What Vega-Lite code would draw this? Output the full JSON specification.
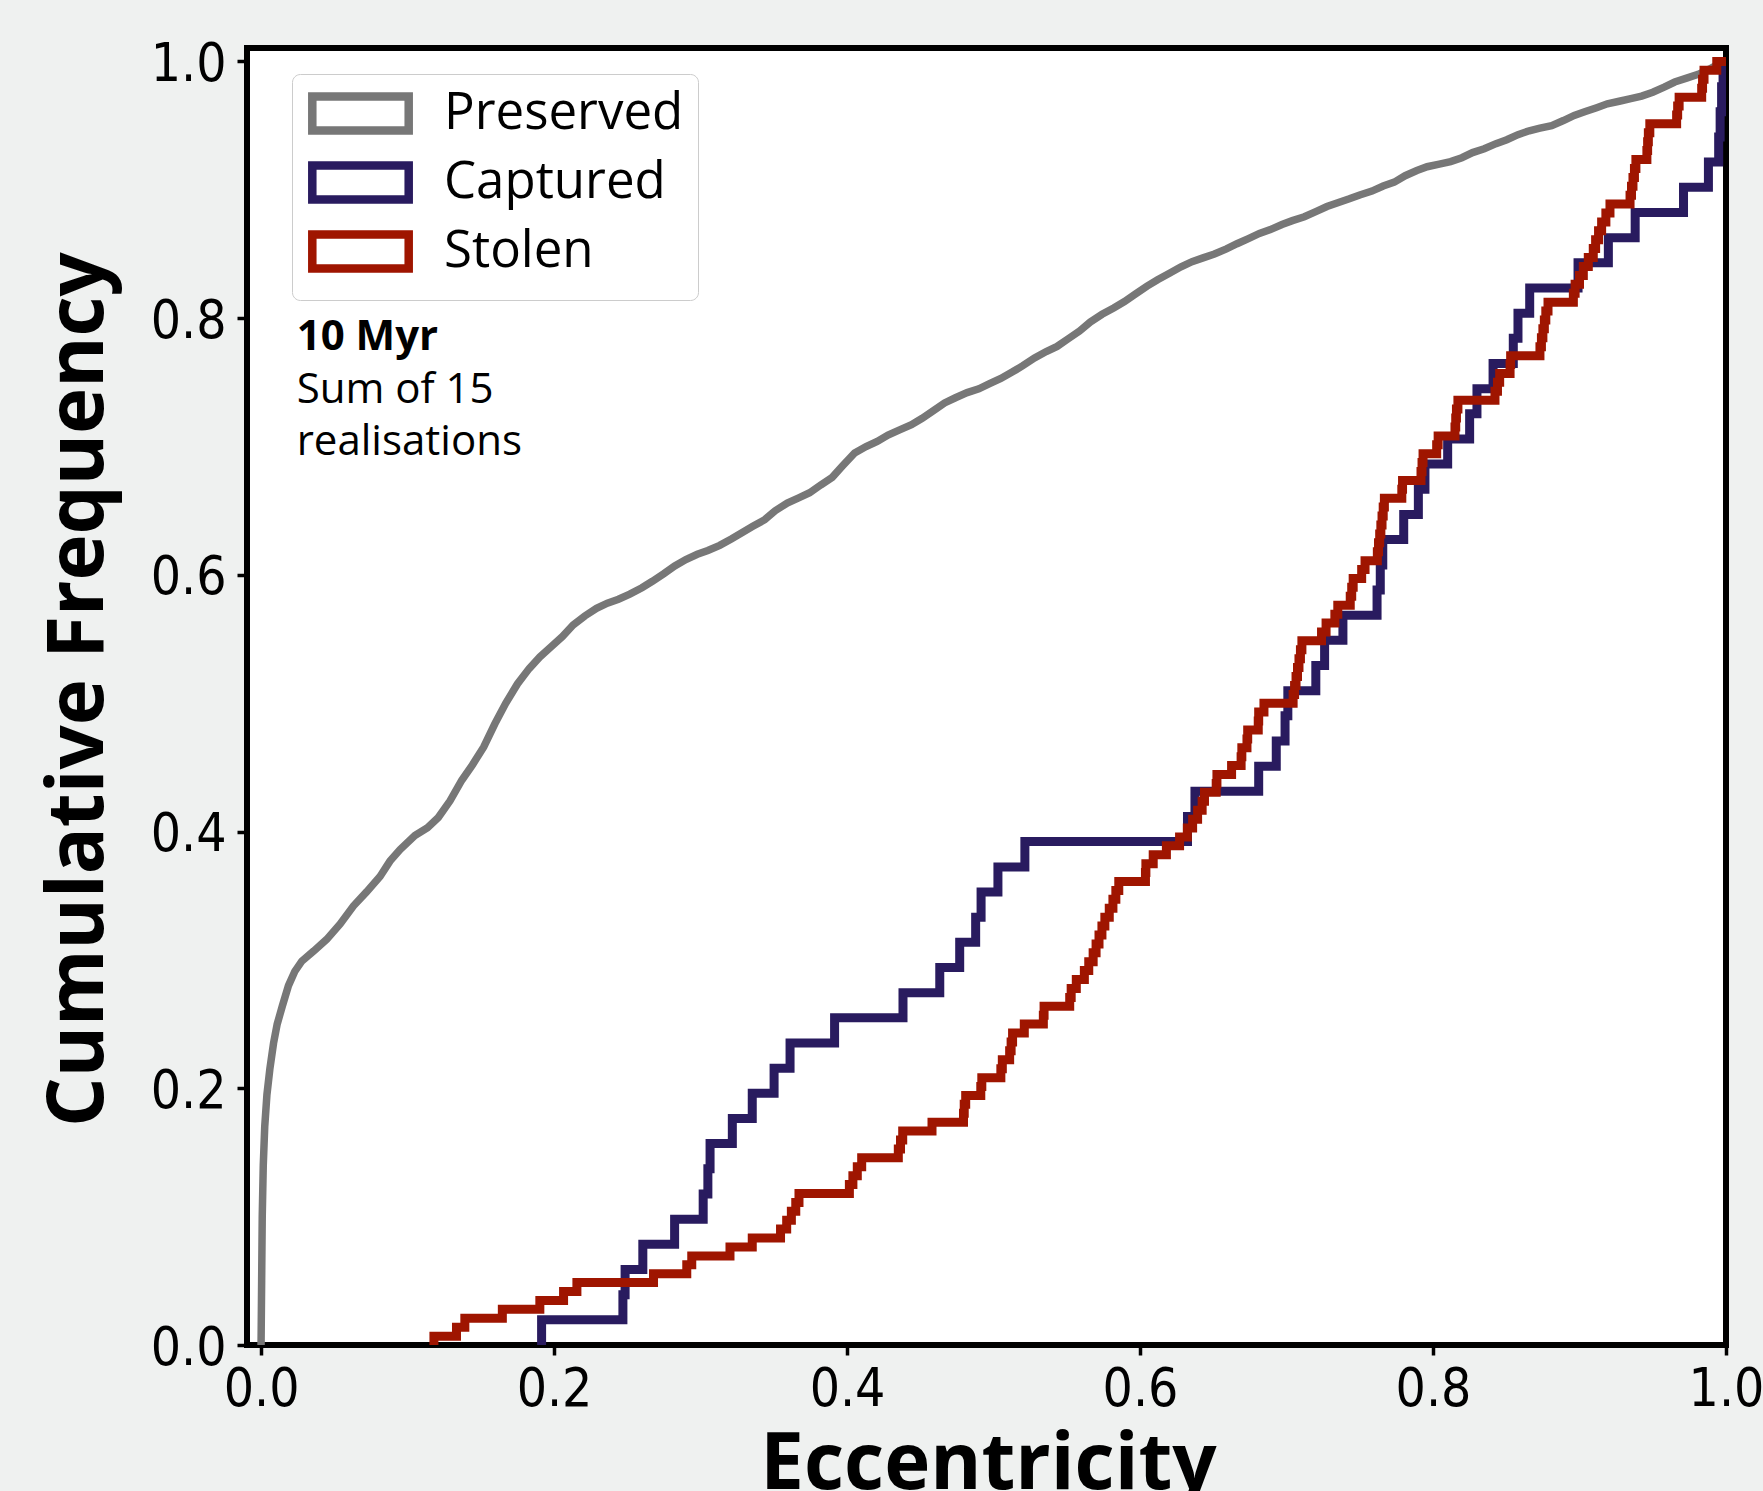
{
  "$schema": "https://vega.github.io/schema/vega-lite/v6.json",
  "width": 1479,
  "height": 1297,
  "autosize": {"type": "none"},
  "padding": {"left": 247, "top": 48, "right": 37, "bottom": 146},
  "background": "#eff1f0",
  "config": {
    "view": {"stroke": "#000000", "strokeWidth": 6, "fill": "#ffffff"},
    "axis": {
      "domain": false,
      "grid": false,
      "tickColor": "#000000",
      "tickWidth": 3.5,
      "tickSize": 10,
      "labelColor": "#000000",
      "labelFont": "DejaVu Sans Condensed, DejaVu Sans",
      "labelFontSize": 53,
      "labelFlush": false,
      "labelOverlap": false,
      "titleColor": "#000000",
      "titleFont": "Open Sans",
      "titleFontSize": 78,
      "titleFontWeight": "bold"
    }
  },
  "datasets": {
    "curves": [
      {"series": "Preserved", "ecc": 0.0, "cum": 0.0},
      {"series": "Preserved", "ecc": 0.0004, "cum": 0.05},
      {"series": "Preserved", "ecc": 0.0008, "cum": 0.10},
      {"series": "Preserved", "ecc": 0.0015, "cum": 0.14},
      {"series": "Preserved", "ecc": 0.0025, "cum": 0.17},
      {"series": "Preserved", "ecc": 0.0040, "cum": 0.195},
      {"series": "Preserved", "ecc": 0.0060, "cum": 0.215},
      {"series": "Preserved", "ecc": 0.0085, "cum": 0.235},
      {"series": "Preserved", "ecc": 0.0110, "cum": 0.250},
      {"series": "Preserved", "ecc": 0.0145, "cum": 0.264},
      {"series": "Preserved", "ecc": 0.0187, "cum": 0.280},
      {"series": "Preserved", "ecc": 0.0230, "cum": 0.291},
      {"series": "Preserved", "ecc": 0.0278, "cum": 0.299},
      {"series": "Preserved", "ecc": 0.0360, "cum": 0.307},
      {"series": "Preserved", "ecc": 0.0448, "cum": 0.316},
      {"series": "Preserved", "ecc": 0.0540, "cum": 0.328},
      {"series": "Preserved", "ecc": 0.0630, "cum": 0.342},
      {"series": "Preserved", "ecc": 0.0720, "cum": 0.353},
      {"series": "Preserved", "ecc": 0.0812, "cum": 0.365},
      {"series": "Preserved", "ecc": 0.0880, "cum": 0.377},
      {"series": "Preserved", "ecc": 0.0949, "cum": 0.386},
      {"series": "Preserved", "ecc": 0.1050, "cum": 0.397},
      {"series": "Preserved", "ecc": 0.1136, "cum": 0.403},
      {"series": "Preserved", "ecc": 0.1210, "cum": 0.411},
      {"series": "Preserved", "ecc": 0.1290, "cum": 0.424},
      {"series": "Preserved", "ecc": 0.1370, "cum": 0.440},
      {"series": "Preserved", "ecc": 0.1443, "cum": 0.452},
      {"series": "Preserved", "ecc": 0.1520, "cum": 0.466},
      {"series": "Preserved", "ecc": 0.1596, "cum": 0.484},
      {"series": "Preserved", "ecc": 0.1670, "cum": 0.500},
      {"series": "Preserved", "ecc": 0.1750, "cum": 0.515},
      {"series": "Preserved", "ecc": 0.1830, "cum": 0.527},
      {"series": "Preserved", "ecc": 0.1903, "cum": 0.536},
      {"series": "Preserved", "ecc": 0.1980, "cum": 0.544},
      {"series": "Preserved", "ecc": 0.2057, "cum": 0.552},
      {"series": "Preserved", "ecc": 0.2130, "cum": 0.561},
      {"series": "Preserved", "ecc": 0.2210, "cum": 0.568},
      {"series": "Preserved", "ecc": 0.2290, "cum": 0.574},
      {"series": "Preserved", "ecc": 0.2364, "cum": 0.578},
      {"series": "Preserved", "ecc": 0.2440, "cum": 0.581},
      {"series": "Preserved", "ecc": 0.2517, "cum": 0.585},
      {"series": "Preserved", "ecc": 0.2600, "cum": 0.590},
      {"series": "Preserved", "ecc": 0.2671, "cum": 0.595},
      {"series": "Preserved", "ecc": 0.2750, "cum": 0.601},
      {"series": "Preserved", "ecc": 0.2824, "cum": 0.607},
      {"series": "Preserved", "ecc": 0.2900, "cum": 0.612},
      {"series": "Preserved", "ecc": 0.2978, "cum": 0.616},
      {"series": "Preserved", "ecc": 0.3050, "cum": 0.619},
      {"series": "Preserved", "ecc": 0.3131, "cum": 0.623},
      {"series": "Preserved", "ecc": 0.3210, "cum": 0.628},
      {"series": "Preserved", "ecc": 0.3285, "cum": 0.633},
      {"series": "Preserved", "ecc": 0.3360, "cum": 0.638},
      {"series": "Preserved", "ecc": 0.3438, "cum": 0.643},
      {"series": "Preserved", "ecc": 0.3510, "cum": 0.650},
      {"series": "Preserved", "ecc": 0.3592, "cum": 0.656},
      {"series": "Preserved", "ecc": 0.3670, "cum": 0.660},
      {"series": "Preserved", "ecc": 0.3745, "cum": 0.664},
      {"series": "Preserved", "ecc": 0.3820, "cum": 0.670},
      {"series": "Preserved", "ecc": 0.3899, "cum": 0.676},
      {"series": "Preserved", "ecc": 0.3970, "cum": 0.685},
      {"series": "Preserved", "ecc": 0.4052, "cum": 0.695},
      {"series": "Preserved", "ecc": 0.4130, "cum": 0.700},
      {"series": "Preserved", "ecc": 0.4206, "cum": 0.704},
      {"series": "Preserved", "ecc": 0.4280, "cum": 0.709},
      {"series": "Preserved", "ecc": 0.4359, "cum": 0.713},
      {"series": "Preserved", "ecc": 0.4440, "cum": 0.717},
      {"series": "Preserved", "ecc": 0.4513, "cum": 0.722},
      {"series": "Preserved", "ecc": 0.4590, "cum": 0.728},
      {"series": "Preserved", "ecc": 0.4666, "cum": 0.734},
      {"series": "Preserved", "ecc": 0.4740, "cum": 0.738},
      {"series": "Preserved", "ecc": 0.4820, "cum": 0.742},
      {"series": "Preserved", "ecc": 0.4900, "cum": 0.745},
      {"series": "Preserved", "ecc": 0.4973, "cum": 0.749},
      {"series": "Preserved", "ecc": 0.5050, "cum": 0.753},
      {"series": "Preserved", "ecc": 0.5127, "cum": 0.758},
      {"series": "Preserved", "ecc": 0.5200, "cum": 0.763},
      {"series": "Preserved", "ecc": 0.5280, "cum": 0.769},
      {"series": "Preserved", "ecc": 0.5360, "cum": 0.774},
      {"series": "Preserved", "ecc": 0.5434, "cum": 0.778},
      {"series": "Preserved", "ecc": 0.5510, "cum": 0.784},
      {"series": "Preserved", "ecc": 0.5587, "cum": 0.790},
      {"series": "Preserved", "ecc": 0.5660, "cum": 0.797},
      {"series": "Preserved", "ecc": 0.5741, "cum": 0.803},
      {"series": "Preserved", "ecc": 0.5820, "cum": 0.808},
      {"series": "Preserved", "ecc": 0.5894, "cum": 0.813},
      {"series": "Preserved", "ecc": 0.5970, "cum": 0.819},
      {"series": "Preserved", "ecc": 0.6048, "cum": 0.825},
      {"series": "Preserved", "ecc": 0.6120, "cum": 0.830},
      {"series": "Preserved", "ecc": 0.6201, "cum": 0.835},
      {"series": "Preserved", "ecc": 0.6280, "cum": 0.840},
      {"series": "Preserved", "ecc": 0.6355, "cum": 0.844},
      {"series": "Preserved", "ecc": 0.6430, "cum": 0.847},
      {"series": "Preserved", "ecc": 0.6508, "cum": 0.850},
      {"series": "Preserved", "ecc": 0.6590, "cum": 0.854},
      {"series": "Preserved", "ecc": 0.6662, "cum": 0.858},
      {"series": "Preserved", "ecc": 0.6740, "cum": 0.862},
      {"series": "Preserved", "ecc": 0.6815, "cum": 0.866},
      {"series": "Preserved", "ecc": 0.6890, "cum": 0.869},
      {"series": "Preserved", "ecc": 0.6969, "cum": 0.873},
      {"series": "Preserved", "ecc": 0.7040, "cum": 0.876},
      {"series": "Preserved", "ecc": 0.7122, "cum": 0.879},
      {"series": "Preserved", "ecc": 0.7200, "cum": 0.883},
      {"series": "Preserved", "ecc": 0.7276, "cum": 0.887},
      {"series": "Preserved", "ecc": 0.7350, "cum": 0.890},
      {"series": "Preserved", "ecc": 0.7429, "cum": 0.893},
      {"series": "Preserved", "ecc": 0.7500, "cum": 0.896},
      {"series": "Preserved", "ecc": 0.7583, "cum": 0.899},
      {"series": "Preserved", "ecc": 0.7660, "cum": 0.903},
      {"series": "Preserved", "ecc": 0.7736, "cum": 0.906},
      {"series": "Preserved", "ecc": 0.7810, "cum": 0.911},
      {"series": "Preserved", "ecc": 0.7890, "cum": 0.915},
      {"series": "Preserved", "ecc": 0.7960, "cum": 0.918},
      {"series": "Preserved", "ecc": 0.8043, "cum": 0.920},
      {"series": "Preserved", "ecc": 0.8120, "cum": 0.922},
      {"series": "Preserved", "ecc": 0.8197, "cum": 0.925},
      {"series": "Preserved", "ecc": 0.8270, "cum": 0.929},
      {"series": "Preserved", "ecc": 0.8350, "cum": 0.932},
      {"series": "Preserved", "ecc": 0.8430, "cum": 0.936},
      {"series": "Preserved", "ecc": 0.8504, "cum": 0.939},
      {"series": "Preserved", "ecc": 0.8580, "cum": 0.943},
      {"series": "Preserved", "ecc": 0.8657, "cum": 0.946},
      {"series": "Preserved", "ecc": 0.8730, "cum": 0.948},
      {"series": "Preserved", "ecc": 0.8810, "cum": 0.950},
      {"series": "Preserved", "ecc": 0.8890, "cum": 0.954},
      {"series": "Preserved", "ecc": 0.8964, "cum": 0.958},
      {"series": "Preserved", "ecc": 0.9040, "cum": 0.961},
      {"series": "Preserved", "ecc": 0.9117, "cum": 0.964},
      {"series": "Preserved", "ecc": 0.9190, "cum": 0.967},
      {"series": "Preserved", "ecc": 0.9271, "cum": 0.969},
      {"series": "Preserved", "ecc": 0.9350, "cum": 0.971},
      {"series": "Preserved", "ecc": 0.9424, "cum": 0.973},
      {"series": "Preserved", "ecc": 0.9500, "cum": 0.976},
      {"series": "Preserved", "ecc": 0.9578, "cum": 0.980},
      {"series": "Preserved", "ecc": 0.9650, "cum": 0.984},
      {"series": "Preserved", "ecc": 0.9731, "cum": 0.987},
      {"series": "Preserved", "ecc": 0.9810, "cum": 0.990},
      {"series": "Preserved", "ecc": 0.9885, "cum": 0.994},
      {"series": "Preserved", "ecc": 0.9950, "cum": 0.998},
      {"series": "Preserved", "ecc": 1.0, "cum": 1.0},

      {"series": "Captured", "ecc": 0.1912, "cum": 0.0},
      {"series": "Captured", "ecc": 0.1915, "cum": 0.0196},
      {"series": "Captured", "ecc": 0.2470, "cum": 0.0392},
      {"series": "Captured", "ecc": 0.2485, "cum": 0.0588},
      {"series": "Captured", "ecc": 0.2606, "cum": 0.0784},
      {"series": "Captured", "ecc": 0.2823, "cum": 0.0980},
      {"series": "Captured", "ecc": 0.3018, "cum": 0.1176},
      {"series": "Captured", "ecc": 0.3050, "cum": 0.1373},
      {"series": "Captured", "ecc": 0.3065, "cum": 0.1569},
      {"series": "Captured", "ecc": 0.3217, "cum": 0.1765},
      {"series": "Captured", "ecc": 0.3353, "cum": 0.1961},
      {"series": "Captured", "ecc": 0.3502, "cum": 0.2157},
      {"series": "Captured", "ecc": 0.3611, "cum": 0.2353},
      {"series": "Captured", "ecc": 0.3915, "cum": 0.2549},
      {"series": "Captured", "ecc": 0.4382, "cum": 0.2745},
      {"series": "Captured", "ecc": 0.4633, "cum": 0.2941},
      {"series": "Captured", "ecc": 0.4769, "cum": 0.3137},
      {"series": "Captured", "ecc": 0.4878, "cum": 0.3333},
      {"series": "Captured", "ecc": 0.4915, "cum": 0.3529},
      {"series": "Captured", "ecc": 0.5030, "cum": 0.3725},
      {"series": "Captured", "ecc": 0.5214, "cum": 0.3922},
      {"series": "Captured", "ecc": 0.6324, "cum": 0.4118},
      {"series": "Captured", "ecc": 0.6375, "cum": 0.4314},
      {"series": "Captured", "ecc": 0.6810, "cum": 0.4510},
      {"series": "Captured", "ecc": 0.6930, "cum": 0.4706},
      {"series": "Captured", "ecc": 0.6990, "cum": 0.4902},
      {"series": "Captured", "ecc": 0.7009, "cum": 0.5098},
      {"series": "Captured", "ecc": 0.7200, "cum": 0.5294},
      {"series": "Captured", "ecc": 0.7260, "cum": 0.5490},
      {"series": "Captured", "ecc": 0.7385, "cum": 0.5686},
      {"series": "Captured", "ecc": 0.7618, "cum": 0.5882},
      {"series": "Captured", "ecc": 0.7640, "cum": 0.6078},
      {"series": "Captured", "ecc": 0.7657, "cum": 0.6275},
      {"series": "Captured", "ecc": 0.7800, "cum": 0.6471},
      {"series": "Captured", "ecc": 0.7900, "cum": 0.6667},
      {"series": "Captured", "ecc": 0.7945, "cum": 0.6863},
      {"series": "Captured", "ecc": 0.8100, "cum": 0.7059},
      {"series": "Captured", "ecc": 0.8250, "cum": 0.7255},
      {"series": "Captured", "ecc": 0.8300, "cum": 0.7451},
      {"series": "Captured", "ecc": 0.8410, "cum": 0.7647},
      {"series": "Captured", "ecc": 0.8548, "cum": 0.7843},
      {"series": "Captured", "ecc": 0.8580, "cum": 0.8039},
      {"series": "Captured", "ecc": 0.8660, "cum": 0.8235},
      {"series": "Captured", "ecc": 0.8990, "cum": 0.8431},
      {"series": "Captured", "ecc": 0.9197, "cum": 0.8627},
      {"series": "Captured", "ecc": 0.9380, "cum": 0.8824},
      {"series": "Captured", "ecc": 0.9710, "cum": 0.9020},
      {"series": "Captured", "ecc": 0.9880, "cum": 0.9216},
      {"series": "Captured", "ecc": 0.9950, "cum": 0.9412},
      {"series": "Captured", "ecc": 0.9960, "cum": 0.9608},
      {"series": "Captured", "ecc": 0.9970, "cum": 0.9804},
      {"series": "Captured", "ecc": 0.9980, "cum": 1.0},
      {"series": "Captured", "ecc": 1.0, "cum": 1.0},

      {"series": "Stolen", "ecc": 0.1177, "cum": 0.0},
      {"series": "Stolen", "ecc": 0.1180, "cum": 0.0069},
      {"series": "Stolen", "ecc": 0.1334, "cum": 0.0139},
      {"series": "Stolen", "ecc": 0.1391, "cum": 0.0208},
      {"series": "Stolen", "ecc": 0.1647, "cum": 0.0278},
      {"series": "Stolen", "ecc": 0.1903, "cum": 0.0347},
      {"series": "Stolen", "ecc": 0.2065, "cum": 0.0417},
      {"series": "Stolen", "ecc": 0.2156, "cum": 0.0486},
      {"series": "Stolen", "ecc": 0.2679, "cum": 0.0556},
      {"series": "Stolen", "ecc": 0.2906, "cum": 0.0625},
      {"series": "Stolen", "ecc": 0.2940, "cum": 0.0694},
      {"series": "Stolen", "ecc": 0.3201, "cum": 0.0764},
      {"series": "Stolen", "ecc": 0.3353, "cum": 0.0833},
      {"series": "Stolen", "ecc": 0.3546, "cum": 0.0903},
      {"series": "Stolen", "ecc": 0.3588, "cum": 0.0972},
      {"series": "Stolen", "ecc": 0.3620, "cum": 0.1042},
      {"series": "Stolen", "ecc": 0.3650, "cum": 0.1111},
      {"series": "Stolen", "ecc": 0.3672, "cum": 0.1181},
      {"series": "Stolen", "ecc": 0.4016, "cum": 0.1250},
      {"series": "Stolen", "ecc": 0.4040, "cum": 0.1319},
      {"series": "Stolen", "ecc": 0.4070, "cum": 0.1389},
      {"series": "Stolen", "ecc": 0.4100, "cum": 0.1458},
      {"series": "Stolen", "ecc": 0.4350, "cum": 0.1528},
      {"series": "Stolen", "ecc": 0.4365, "cum": 0.1597},
      {"series": "Stolen", "ecc": 0.4380, "cum": 0.1667},
      {"series": "Stolen", "ecc": 0.4580, "cum": 0.1736},
      {"series": "Stolen", "ecc": 0.4795, "cum": 0.1806},
      {"series": "Stolen", "ecc": 0.4800, "cum": 0.1875},
      {"series": "Stolen", "ecc": 0.4810, "cum": 0.1944},
      {"series": "Stolen", "ecc": 0.4913, "cum": 0.2014},
      {"series": "Stolen", "ecc": 0.4920, "cum": 0.2083},
      {"series": "Stolen", "ecc": 0.5050, "cum": 0.2153},
      {"series": "Stolen", "ecc": 0.5060, "cum": 0.2222},
      {"series": "Stolen", "ecc": 0.5110, "cum": 0.2292},
      {"series": "Stolen", "ecc": 0.5120, "cum": 0.2361},
      {"series": "Stolen", "ecc": 0.5130, "cum": 0.2431},
      {"series": "Stolen", "ecc": 0.5210, "cum": 0.2500},
      {"series": "Stolen", "ecc": 0.5340, "cum": 0.2569},
      {"series": "Stolen", "ecc": 0.5345, "cum": 0.2639},
      {"series": "Stolen", "ecc": 0.5520, "cum": 0.2708},
      {"series": "Stolen", "ecc": 0.5530, "cum": 0.2778},
      {"series": "Stolen", "ecc": 0.5565, "cum": 0.2847},
      {"series": "Stolen", "ecc": 0.5620, "cum": 0.2917},
      {"series": "Stolen", "ecc": 0.5650, "cum": 0.2986},
      {"series": "Stolen", "ecc": 0.5680, "cum": 0.3056},
      {"series": "Stolen", "ecc": 0.5700, "cum": 0.3125},
      {"series": "Stolen", "ecc": 0.5720, "cum": 0.3194},
      {"series": "Stolen", "ecc": 0.5740, "cum": 0.3264},
      {"series": "Stolen", "ecc": 0.5760, "cum": 0.3333},
      {"series": "Stolen", "ecc": 0.5790, "cum": 0.3403},
      {"series": "Stolen", "ecc": 0.5815, "cum": 0.3472},
      {"series": "Stolen", "ecc": 0.5835, "cum": 0.3542},
      {"series": "Stolen", "ecc": 0.5855, "cum": 0.3611},
      {"series": "Stolen", "ecc": 0.6037, "cum": 0.3681},
      {"series": "Stolen", "ecc": 0.6040, "cum": 0.3750},
      {"series": "Stolen", "ecc": 0.6090, "cum": 0.3819},
      {"series": "Stolen", "ecc": 0.6180, "cum": 0.3889},
      {"series": "Stolen", "ecc": 0.6270, "cum": 0.3958},
      {"series": "Stolen", "ecc": 0.6323, "cum": 0.4028},
      {"series": "Stolen", "ecc": 0.6359, "cum": 0.4097},
      {"series": "Stolen", "ecc": 0.6393, "cum": 0.4167},
      {"series": "Stolen", "ecc": 0.6424, "cum": 0.4236},
      {"series": "Stolen", "ecc": 0.6440, "cum": 0.4306},
      {"series": "Stolen", "ecc": 0.6520, "cum": 0.4375},
      {"series": "Stolen", "ecc": 0.6525, "cum": 0.4444},
      {"series": "Stolen", "ecc": 0.6625, "cum": 0.4514},
      {"series": "Stolen", "ecc": 0.6690, "cum": 0.4583},
      {"series": "Stolen", "ecc": 0.6695, "cum": 0.4653},
      {"series": "Stolen", "ecc": 0.6730, "cum": 0.4722},
      {"series": "Stolen", "ecc": 0.6735, "cum": 0.4792},
      {"series": "Stolen", "ecc": 0.6807, "cum": 0.4861},
      {"series": "Stolen", "ecc": 0.6810, "cum": 0.4931},
      {"series": "Stolen", "ecc": 0.6846, "cum": 0.5000},
      {"series": "Stolen", "ecc": 0.7045, "cum": 0.5069},
      {"series": "Stolen", "ecc": 0.7055, "cum": 0.5139},
      {"series": "Stolen", "ecc": 0.7065, "cum": 0.5208},
      {"series": "Stolen", "ecc": 0.7075, "cum": 0.5278},
      {"series": "Stolen", "ecc": 0.7085, "cum": 0.5347},
      {"series": "Stolen", "ecc": 0.7095, "cum": 0.5417},
      {"series": "Stolen", "ecc": 0.7105, "cum": 0.5486},
      {"series": "Stolen", "ecc": 0.7239, "cum": 0.5556},
      {"series": "Stolen", "ecc": 0.7270, "cum": 0.5625},
      {"series": "Stolen", "ecc": 0.7330, "cum": 0.5694},
      {"series": "Stolen", "ecc": 0.7350, "cum": 0.5764},
      {"series": "Stolen", "ecc": 0.7435, "cum": 0.5833},
      {"series": "Stolen", "ecc": 0.7445, "cum": 0.5903},
      {"series": "Stolen", "ecc": 0.7455, "cum": 0.5972},
      {"series": "Stolen", "ecc": 0.7513, "cum": 0.6042},
      {"series": "Stolen", "ecc": 0.7536, "cum": 0.6111},
      {"series": "Stolen", "ecc": 0.7620, "cum": 0.6181},
      {"series": "Stolen", "ecc": 0.7628, "cum": 0.6250},
      {"series": "Stolen", "ecc": 0.7636, "cum": 0.6319},
      {"series": "Stolen", "ecc": 0.7644, "cum": 0.6389},
      {"series": "Stolen", "ecc": 0.7652, "cum": 0.6458},
      {"series": "Stolen", "ecc": 0.7660, "cum": 0.6528},
      {"series": "Stolen", "ecc": 0.7668, "cum": 0.6597},
      {"series": "Stolen", "ecc": 0.7787, "cum": 0.6667},
      {"series": "Stolen", "ecc": 0.7792, "cum": 0.6736},
      {"series": "Stolen", "ecc": 0.7918, "cum": 0.6806},
      {"series": "Stolen", "ecc": 0.7925, "cum": 0.6875},
      {"series": "Stolen", "ecc": 0.7932, "cum": 0.6944},
      {"series": "Stolen", "ecc": 0.8025, "cum": 0.7014},
      {"series": "Stolen", "ecc": 0.8035, "cum": 0.7083},
      {"series": "Stolen", "ecc": 0.8150, "cum": 0.7153},
      {"series": "Stolen", "ecc": 0.8155, "cum": 0.7222},
      {"series": "Stolen", "ecc": 0.8160, "cum": 0.7292},
      {"series": "Stolen", "ecc": 0.8170, "cum": 0.7361},
      {"series": "Stolen", "ecc": 0.8423, "cum": 0.7431},
      {"series": "Stolen", "ecc": 0.8440, "cum": 0.7500},
      {"series": "Stolen", "ecc": 0.8455, "cum": 0.7569},
      {"series": "Stolen", "ecc": 0.8526, "cum": 0.7639},
      {"series": "Stolen", "ecc": 0.8530, "cum": 0.7708},
      {"series": "Stolen", "ecc": 0.8730, "cum": 0.7778},
      {"series": "Stolen", "ecc": 0.8740, "cum": 0.7847},
      {"series": "Stolen", "ecc": 0.8750, "cum": 0.7917},
      {"series": "Stolen", "ecc": 0.8760, "cum": 0.7986},
      {"series": "Stolen", "ecc": 0.8770, "cum": 0.8056},
      {"series": "Stolen", "ecc": 0.8785, "cum": 0.8125},
      {"series": "Stolen", "ecc": 0.8958, "cum": 0.8194},
      {"series": "Stolen", "ecc": 0.8970, "cum": 0.8264},
      {"series": "Stolen", "ecc": 0.9000, "cum": 0.8333},
      {"series": "Stolen", "ecc": 0.9026, "cum": 0.8403},
      {"series": "Stolen", "ecc": 0.9060, "cum": 0.8472},
      {"series": "Stolen", "ecc": 0.9094, "cum": 0.8542},
      {"series": "Stolen", "ecc": 0.9110, "cum": 0.8611},
      {"series": "Stolen", "ecc": 0.9130, "cum": 0.8681},
      {"series": "Stolen", "ecc": 0.9151, "cum": 0.8750},
      {"series": "Stolen", "ecc": 0.9180, "cum": 0.8819},
      {"series": "Stolen", "ecc": 0.9208, "cum": 0.8889},
      {"series": "Stolen", "ecc": 0.9345, "cum": 0.8958},
      {"series": "Stolen", "ecc": 0.9355, "cum": 0.9028},
      {"series": "Stolen", "ecc": 0.9365, "cum": 0.9097},
      {"series": "Stolen", "ecc": 0.9375, "cum": 0.9167},
      {"series": "Stolen", "ecc": 0.9385, "cum": 0.9236},
      {"series": "Stolen", "ecc": 0.9460, "cum": 0.9306},
      {"series": "Stolen", "ecc": 0.9465, "cum": 0.9375},
      {"series": "Stolen", "ecc": 0.9470, "cum": 0.9444},
      {"series": "Stolen", "ecc": 0.9480, "cum": 0.9514},
      {"series": "Stolen", "ecc": 0.9663, "cum": 0.9583},
      {"series": "Stolen", "ecc": 0.9670, "cum": 0.9653},
      {"series": "Stolen", "ecc": 0.9680, "cum": 0.9722},
      {"series": "Stolen", "ecc": 0.9834, "cum": 0.9792},
      {"series": "Stolen", "ecc": 0.9840, "cum": 0.9861},
      {"series": "Stolen", "ecc": 0.9850, "cum": 0.9931},
      {"series": "Stolen", "ecc": 0.9937, "cum": 1.0},
      {"series": "Stolen", "ecc": 1.0, "cum": 1.0}
    ],
    "heading": [{"note": "10 Myr"}],
    "line1": [{"note": "Sum of 15"}],
    "line2": [{"note": "realisations"}]
  },
  "layer": [
    {
      "data": {"name": "curves"},
      "transform": [{"filter": "datum.series === 'Preserved'"}],
      "mark": {"type": "line", "strokeWidth": 7.5, "clip": true},
      "encoding": {
        "x": {
          "field": "ecc", "type": "quantitative",
          "scale": {"domain": [-0.0096, 1.0], "nice": false, "zero": false},
          "axis": {"title": "Eccentricity", "values": [0, 0.2, 0.4, 0.6, 0.8, 1.0], "format": ".1f", "labelPadding": 8, "titleBaseline": "alphabetic", "titleAlign": "center", "titleX": 741, "titleY": 143}
        },
        "y": {
          "field": "cum", "type": "quantitative",
          "scale": {"domain": [0, 1.0105], "nice": false, "zero": false},
          "axis": {"title": "Cumulative Frequency", "values": [0, 0.2, 0.4, 0.6, 0.8, 1.0], "format": ".1f", "labelPadding": 11, "labelOffset": 3, "titleAngle": 270, "titleBaseline": "alphabetic", "titleAlign": "center", "titleX": -145, "titleY": 641}
        },
        "color": {
          "field": "series",
          "type": "nominal",
          "scale": {"domain": ["Preserved", "Captured", "Stolen"], "range": ["#777777", "#291b5f", "#9f1500"]},
          "legend": {
            "title": null,
            "orient": "none",
            "legendX": 45,
            "legendY": 26,
            "symbolType": "M-2.41,-0.85H2.41V0.85H-2.41Z",
            "symbolSize": 1600,
            "symbolStrokeWidth": 8.5,
            "symbolFillColor": "#ffffff",
            "symbolOffset": 29,
            "labelFont": "Open Sans",
            "labelFontSize": 51,
            "labelColor": "#000000",
            "labelOffset": 58,
            "labelLimit": 500,
            "rowPadding": 0,
            "padding": 14,
            "fillColor": "#ffffff",
            "strokeColor": "#cccccc",
            "cornerRadius": 8
          }
        }
      }
    },
    {
      "data": {"name": "curves"},
      "transform": [{"filter": "datum.series === 'Captured'"}],
      "mark": {"type": "line", "interpolate": "step-after", "strokeWidth": 9, "clip": true},
      "encoding": {
        "x": {
          "field": "ecc", "type": "quantitative",
          "scale": {"domain": [-0.0096, 1.0], "nice": false, "zero": false},
          "axis": {"title": "Eccentricity", "values": [0, 0.2, 0.4, 0.6, 0.8, 1.0], "format": ".1f", "labelPadding": 8, "titleBaseline": "alphabetic", "titleAlign": "center", "titleX": 741, "titleY": 143}
        },
        "y": {
          "field": "cum", "type": "quantitative",
          "scale": {"domain": [0, 1.0105], "nice": false, "zero": false},
          "axis": {"title": "Cumulative Frequency", "values": [0, 0.2, 0.4, 0.6, 0.8, 1.0], "format": ".1f", "labelPadding": 11, "labelOffset": 3, "titleAngle": 270, "titleBaseline": "alphabetic", "titleAlign": "center", "titleX": -145, "titleY": 641}
        },
        "color": {
          "field": "series",
          "type": "nominal",
          "scale": {"domain": ["Preserved", "Captured", "Stolen"], "range": ["#777777", "#291b5f", "#9f1500"]}
        }
      }
    },
    {
      "data": {"name": "curves"},
      "transform": [{"filter": "datum.series === 'Stolen'"}],
      "mark": {"type": "line", "interpolate": "step-after", "strokeWidth": 9, "clip": true},
      "encoding": {
        "x": {
          "field": "ecc", "type": "quantitative",
          "scale": {"domain": [-0.0096, 1.0], "nice": false, "zero": false},
          "axis": {"title": "Eccentricity", "values": [0, 0.2, 0.4, 0.6, 0.8, 1.0], "format": ".1f", "labelPadding": 8, "titleBaseline": "alphabetic", "titleAlign": "center", "titleX": 741, "titleY": 143}
        },
        "y": {
          "field": "cum", "type": "quantitative",
          "scale": {"domain": [0, 1.0105], "nice": false, "zero": false},
          "axis": {"title": "Cumulative Frequency", "values": [0, 0.2, 0.4, 0.6, 0.8, 1.0], "format": ".1f", "labelPadding": 11, "labelOffset": 3, "titleAngle": 270, "titleBaseline": "alphabetic", "titleAlign": "center", "titleX": -145, "titleY": 641}
        },
        "color": {
          "field": "series",
          "type": "nominal",
          "scale": {"domain": ["Preserved", "Captured", "Stolen"], "range": ["#777777", "#291b5f", "#9f1500"]}
        }
      }
    },
    {
      "data": {"name": "heading"},
      "mark": {"type": "text", "font": "Open Sans", "fontSize": 42, "fontWeight": "bold", "align": "left", "baseline": "alphabetic", "color": "#000000"},
      "encoding": {
        "x": {"datum": 0.0243, "type": "quantitative"},
        "y": {"datum": 0.7755, "type": "quantitative"},
        "text": {"field": "note", "type": "nominal"}
      }
    },
    {
      "data": {"name": "line1"},
      "mark": {"type": "text", "font": "Open Sans", "fontSize": 42, "align": "left", "baseline": "alphabetic", "color": "#000000"},
      "encoding": {
        "x": {"datum": 0.0243, "type": "quantitative"},
        "y": {"datum": 0.734, "type": "quantitative"},
        "text": {"field": "note", "type": "nominal"}
      }
    },
    {
      "data": {"name": "line2"},
      "mark": {"type": "text", "font": "Open Sans", "fontSize": 42, "align": "left", "baseline": "alphabetic", "color": "#000000"},
      "encoding": {
        "x": {"datum": 0.0243, "type": "quantitative"},
        "y": {"datum": 0.6937, "type": "quantitative"},
        "text": {"field": "note", "type": "nominal"}
      }
    }
  ]
}
